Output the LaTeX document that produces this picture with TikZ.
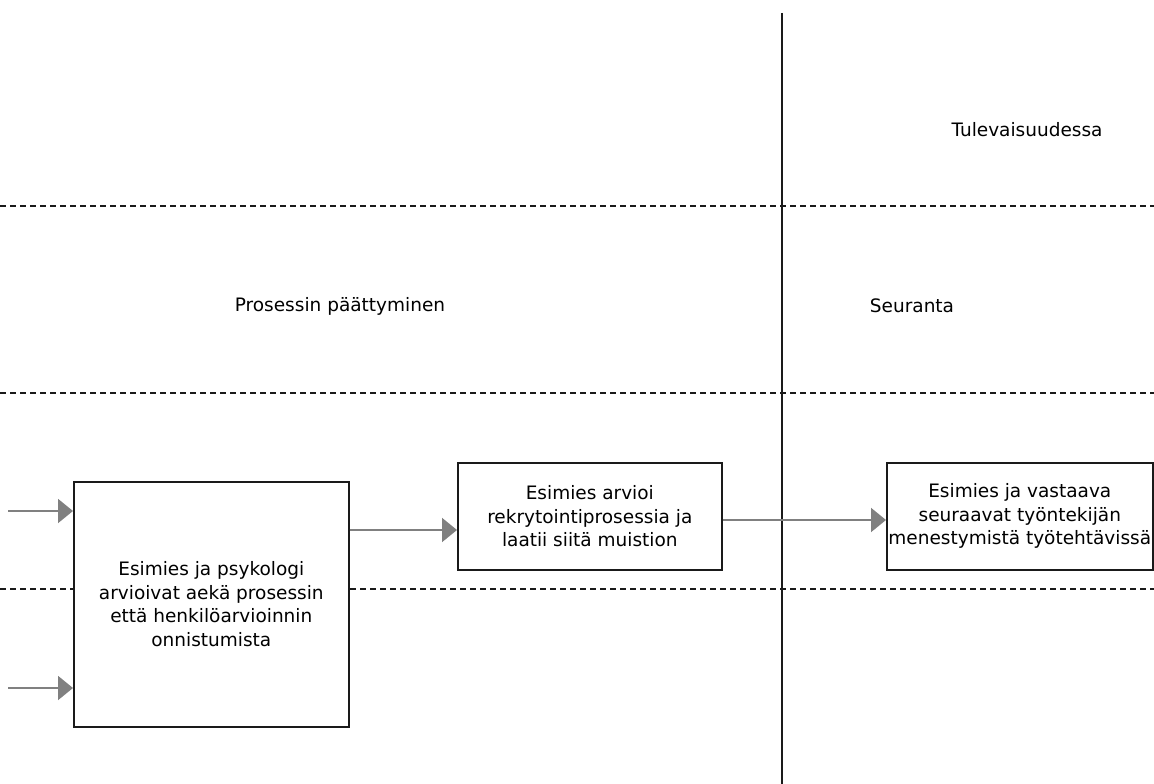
\documentclass[tikz,border=0pt]{standalone}
\usepackage{fontspec}
\setmainfont{DejaVu Sans}
\usetikzlibrary{arrows.meta}
\definecolor{linegray}{HTML}{808080}
\definecolor{boxblack}{HTML}{1A1A1A}
\tikzset{
  procbox/.style={draw=boxblack, line width=1.6pt, fill=white, align=center, inner sep=0pt,
    font=\fontsize{18.5}{23.5}\selectfont},
  lanelabel/.style={font=\fontsize{18.5}{22}\selectfont, text=black},
  lanedash/.style={draw=boxblack, line width=1.2pt, dash pattern=on 6pt off 4pt},
  flow/.style={draw=linegray, line width=1.8pt, -{Triangle[length=15pt,width=24pt]}},
}
\begin{document}
\begin{tikzpicture}[x=1pt,y=-1pt]
\useasboundingbox[fill=white] (0,0) rectangle (1154,784);
% lane separators
\coordinate (d1l) at (0,206); \coordinate (d1r) at (1154,206);
\coordinate (d2l) at (0,393); \coordinate (d2r) at (1154,393);
\coordinate (d3l) at (0,589); \coordinate (d3r) at (1154,589);
\draw[lanedash] (d1l) -- (d1r);
\draw[lanedash] (d2l) -- (d2r);
\draw[lanedash] (d3l) -- (d3r);
% vertical divider
\coordinate (vt) at (782,13); \coordinate (vb) at (782,784);
\draw[draw=boxblack, line width=1.8pt] (vt) -- (vb);
% labels
\node[lanelabel] (tul) at (1027,130) {Tulevaisuudessa};
\node[lanelabel] (seu) at (912,306) {Seuranta};
\node[lanelabel] (pro) at (340,306) {Prosessin päättyminen};
% boxes
\node[procbox, minimum width=275pt, minimum height=245pt, anchor=north west] (b1) at (73,481)
  {Esimies ja psykologi\\arvioivat aekä prosessin\\että henkilöarvioinnin\\onnistumista};
\node[procbox, minimum width=264pt, minimum height=107pt, anchor=north west] (b2) at (457,462)
  {Esimies arvioi\\rekrytointiprosessia ja\\laatii siitä muistion};
\node[procbox, minimum width=266pt, minimum height=107pt, anchor=north west] (b3) at (886,462)
  {Esimies ja vastaava\\seuraavat työntekijän\\menestymistä työtehtävissä};
% connectors
\coordinate (in1) at (8,511);
\coordinate (in2) at (8,688);
\draw[flow] (in1) -- (b1.west |- in1);
\draw[flow] (in2) -- (b1.west |- in2);
\draw[flow] (b1.east |- 0,530) -- (b2.west |- 0,530);
\draw[flow] (b2.east |- 0,520) -- (b3.west |- 0,520);
\end{tikzpicture}
\end{document}
